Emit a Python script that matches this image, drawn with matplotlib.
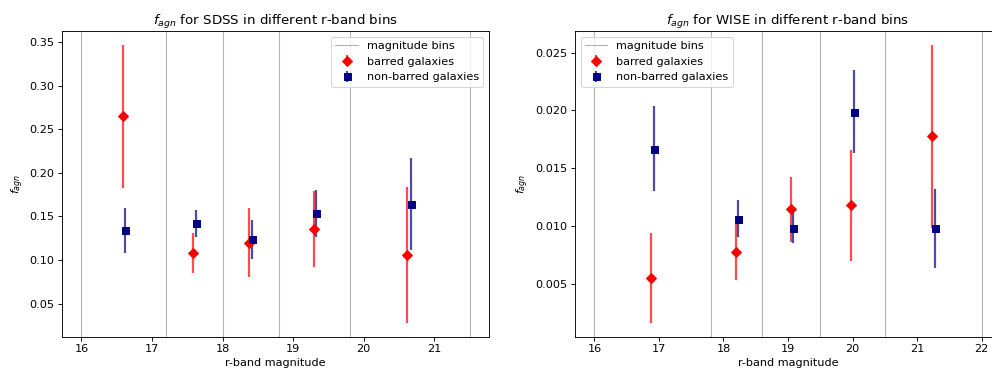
import numpy as np
import matplotlib
matplotlib.use("Agg")
import matplotlib.pyplot as plt

# r-band bin edges
sdss_bins = [16.0, 17.2, 18.0, 18.8, 19.8, 21.5]
wise_bins = [16.0, 17.8, 18.6, 19.5, 20.5, 22.0]

# SDSS: mean magnitude, AGN fraction and error per bin
sdss_bar_mag = [16.59, 17.585, 18.38, 19.29, 20.62]
sdss_bar_f = [0.265, 0.108, 0.120, 0.1355, 0.1055]
sdss_bar_err = [0.082, 0.023, 0.040, 0.044, 0.078]
sdss_nobar_mag = [16.62, 17.62, 18.41, 19.32, 20.67]
sdss_nobar_f = [0.134, 0.142, 0.1237, 0.1537, 0.164]
sdss_nobar_err = [0.026, 0.0155, 0.0224, 0.027, 0.053]

# WISE: same quantities
wise_bar_mag = [16.884, 18.19, 19.04, 19.98, 21.23]
wise_bar_f = [0.0055, 0.00775, 0.01145, 0.01182, 0.01777]
wise_bar_err = [0.00388, 0.0024, 0.0028, 0.0048, 0.0079]
wise_nobar_mag = [16.92, 18.23, 19.07, 20.03, 21.28]
wise_nobar_f = [0.01671, 0.01066, 0.00988, 0.01991, 0.0098]
wise_nobar_err = [0.0037, 0.0016, 0.0013, 0.0036, 0.0034]

FS = 11.2


def panel(ax, bins, bm, bf, be, nm, nf, ne, name, loc):
    for i, b in enumerate(bins):
        ax.axvline(b, color="grey", lw=1.1, alpha=0.6,
                   label="magnitude bins" if i == 0 else None)
    ax.errorbar(bm, bf, yerr=be, fmt="D", color="red", ms=6.7, elinewidth=2.2,
                ecolor=(1, 0, 0, 0.7), label="barred galaxies")
    ax.errorbar(nm, nf, yerr=ne, fmt="s", color="navy", ms=7, elinewidth=2.2,
                ecolor=(0, 0, 0.5, 0.7), label="non-barred galaxies")
    ax.set_title(r"$f_{agn}$ for " + name + " in different r-band bins", fontsize=13.4)
    ax.set_xlabel("r-band magnitude", fontsize=FS)
    ax.set_ylabel(r"$f_{agn}$", fontsize=FS)
    ax.tick_params(labelsize=FS, width=0.9, length=3.9)
    for s in ax.spines.values():
        s.set_linewidth(0.9)
    ax.legend(loc=loc, fontsize=FS)


fig = plt.figure(figsize=(992 / 72, 374 / 72), dpi=72)
ax1 = fig.add_axes([62 / 992, 37 / 374, 427 / 992, 306 / 374])
ax2 = fig.add_axes([575 / 992, 37 / 374, 426 / 992, 306 / 374])

panel(ax1, sdss_bins, sdss_bar_mag, sdss_bar_f, sdss_bar_err,
      sdss_nobar_mag, sdss_nobar_f, sdss_nobar_err, "SDSS", "upper right")
panel(ax2, wise_bins, wise_bar_mag, wise_bar_f, wise_bar_err,
      wise_nobar_mag, wise_nobar_f, wise_nobar_err, "WISE", "upper left")

fig.savefig("out.png", dpi=72)
